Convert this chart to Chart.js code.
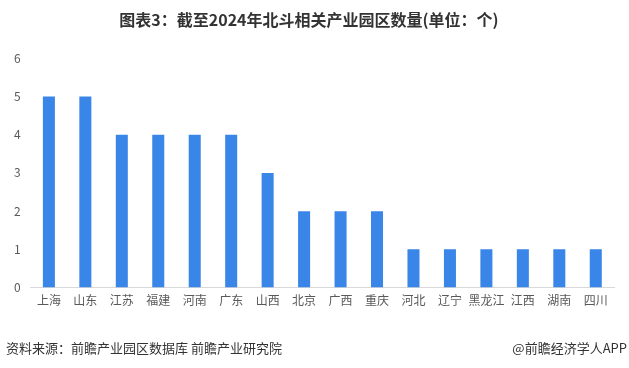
<!DOCTYPE html>
<html><head><meta charset="utf-8">
<script src="https://cdn.jsdelivr.net/npm/chart.js@4/dist/chart.umd.min.js"></script>
<style>
html,body{margin:0;padding:0;background:#fff;}
#wrap{position:relative;width:629px;height:368px;}
canvas{position:absolute;left:0;top:0;}
.foot{position:absolute;top:340px;font-family:"Noto Sans CJK SC","Microsoft YaHei",sans-serif;font-size:13px;color:#333;white-space:nowrap;line-height:16px;}
</style></head>
<body>
<div id="wrap">
<canvas id="c" width="629" height="368"></canvas>
<div class="foot" style="left:6px;">资料来源：前瞻产业园区数据库 前瞻产业研究院</div>
<div class="foot" style="right:2px;">@前瞻经济学人APP</div>
</div>
<script>
const categories = ["上海","山东","江苏","福建","河南","广东","山西","北京","广西","重庆","河北","辽宁","黑龙江","江西","湖南","四川"];
const parkCounts = [5,5,4,4,4,4,3,2,2,2,1,1,1,1,1,1];
const yTicks = [0,1,2,3,4,5,6];
const titleText = "图表3：截至2024年北斗相关产业园区数量(单位：个)";
const FONT = '"Noto Sans CJK SC", sans-serif';

new Chart(document.getElementById('c'), {
  type: 'bar',
  data: {
    labels: categories,
    datasets: [{
      data: parkCounts,
      backgroundColor: '#3a86e8',
      barPercentage: 0.66,
      categoryPercentage: 0.5
    }]
  },
  options: {
    responsive: false,
    animation: false,
    devicePixelRatio: 1,
    layout: { padding: { left: 4, right: 15, top: 0, bottom: 54 } },
    plugins: {
      legend: { display: false },
      tooltip: { enabled: false },
      title: {
        display: true,
        text: titleText,
        color: '#333',
        font: { family: FONT, size: 16, weight: 'bold' },
        padding: { top: 10, bottom: 29 }
      }
    },
    scales: {
      x: {
        grid: { display: false, drawTicks: false },
        border: { color: '#d9d9d9', width: 1 },
        ticks: { color: '#595959', font: { family: FONT, size: 12 }, padding: 6, maxRotation: 0, autoSkip: false }
      },
      y: {
        min: 0, max: 6,
        afterBuildTicks: (s) => { s.ticks = yTicks.map(v => ({ value: v })); },
        grid: { display: false, drawTicks: false },
        border: { display: false },
        ticks: { color: '#595959', font: { family: FONT, size: 12 }, padding: 10 }
      }
    }
  }
});
</script>
</body></html>
